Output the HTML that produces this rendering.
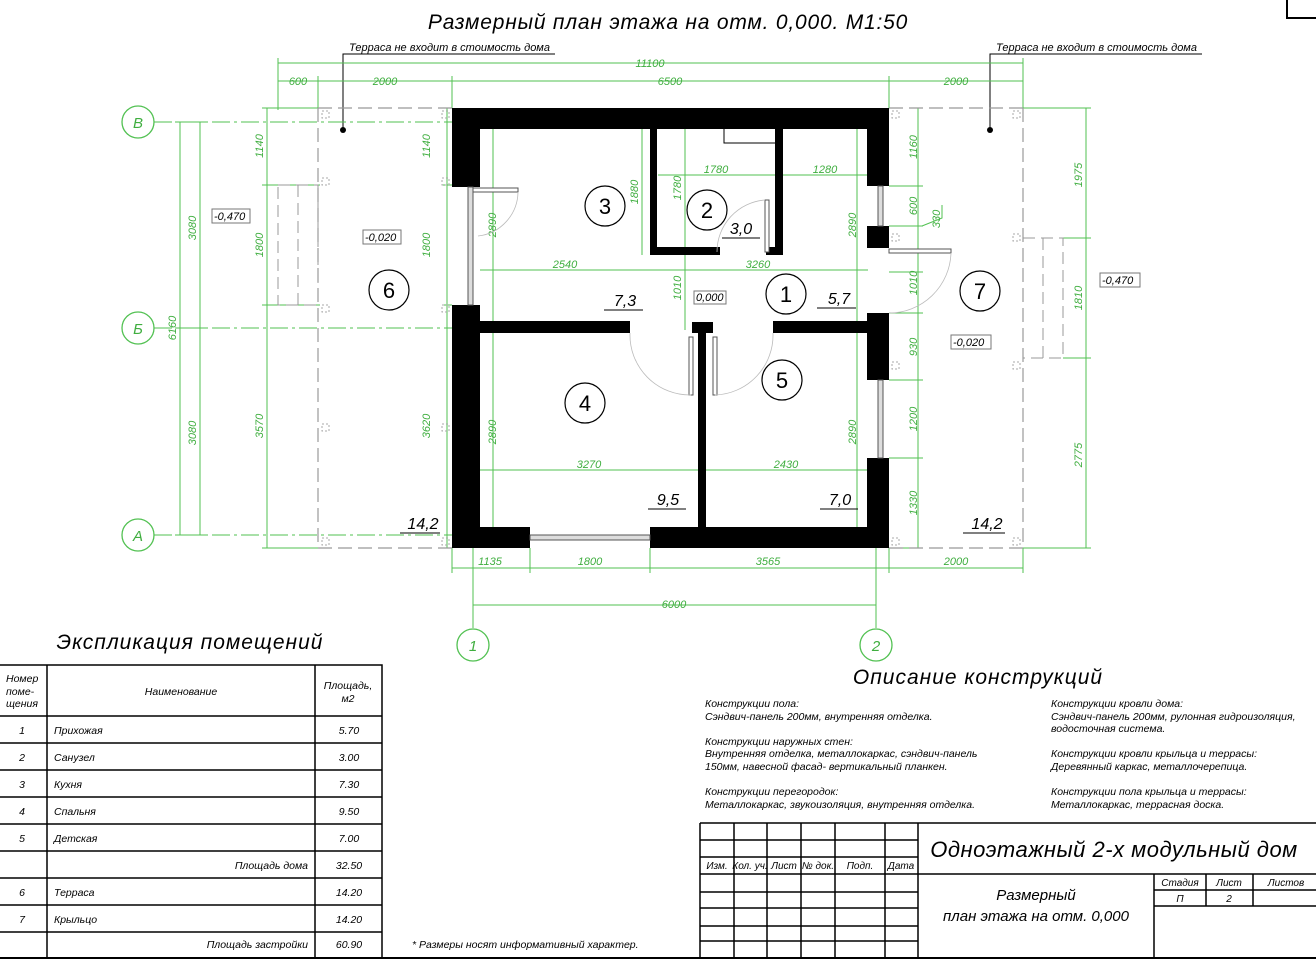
<!DOCTYPE html>
<html><head><meta charset="utf-8"><style>
html,body{margin:0;padding:0;background:#fff;}
svg{display:block;font-family:"Liberation Sans","DejaVu Sans",sans-serif;font-style:italic;}
.g{stroke:#52c152;stroke-width:1;fill:none}
.gt{fill:#3fae3f;font-size:11px}
.k{stroke:#000;fill:none}
.d{stroke:#999;stroke-width:1.2;fill:none;stroke-dasharray:14 6}
.w{fill:#000}
.t{fill:#000;font-size:11px}
</style></head><body>
<svg width="1316" height="965" viewBox="0 0 1316 965" xmlns="http://www.w3.org/2000/svg">
<rect x="1287" y="-2" width="40" height="20" fill="none" stroke="#000" stroke-width="2"/>
<text x="668" y="29" text-anchor="middle" font-size="21" fill="#000" letter-spacing="0.8">Размерный план этажа на отм. 0,000. М1:50</text>

<path class="k" d="M343 130 V54 H555 M990 130 V54 H1202"/>
<circle cx="343" cy="130" r="3"/><circle cx="990" cy="130" r="3"/>
<text x="349" y="51" class="t" font-size="10.5">Терраса не входит в стоимость дома</text>
<text x="996" y="51" class="t" font-size="10.5">Терраса не входит в стоимость дома</text>

<g class="g">
<path d="M278 63 H1023 M278 81 H1023 M278 58 V110 M318 76 V110 M452 76 V108 M889 76 V108 M1023 58 V110"/>
<path d="M452 568 H1023 M452 548 V573 M530 548 V573 M650 548 V573 M889 548 V573 M1023 548 V573"/>
<path d="M473 605 H876 M473 560 V628 M876 560 V628"/>
<path d="M154 122 H452 M154 328 H452 M154 535 H452" stroke-dasharray="18 4 3 4"/>
<path d="M473 548 V628 M876 548 V628" stroke-dasharray="18 4 3 4"/>
<path d="M180 122 V535 M200 122 V535 M175 122 H205 M175 328 H205 M175 535 H205"/>
<path d="M267 108 V548 M262 108 H320 M262 185 H320 M262 305 H320 M262 548 H320"/>
<path d="M447 108 V548 M442 108 H452 M442 185 H452 M442 305 H452 M442 548 H452"/>
<path d="M918 108 V548 M889 186 H923 M889 226 H923 M889 272 H923 M889 313 H923 M889 380 H923 M889 458 H923 M889 548 H923"/>
<path d="M1086 108 V548 M1023 108 H1091 M1063 238 H1091 M1063 358 H1091 M1023 548 H1091"/>
<path d="M922 226 L942 218 V205"/>
<path d="M480 270 H868 M480 470 H868 M658 175 H868 M642 129 V255 M685 129 V330 M493 129 V527 M857 129 V527"/>
</g>
<g class="gt" text-anchor="middle">
<text x="650" y="67">11100</text>
<text x="298" y="85">600</text><text x="385" y="85">2000</text><text x="670" y="85">6500</text><text x="956" y="85">2000</text>
<text x="490" y="565">1135</text><text x="590" y="565">1800</text><text x="768" y="565">3565</text><text x="956" y="565">2000</text>
<text x="674" y="608">6000</text>
<text x="565" y="268">2540</text><text x="758" y="268">3260</text>
<text x="589" y="468">3270</text><text x="786" y="468">2430</text>
<text x="716" y="173">1780</text><text x="825" y="173">1280</text>
<g transform="rotate(-90)">
<text x="-228" y="196">3080</text><text x="-433" y="196">3080</text><text x="-328" y="176">6160</text>
<text x="-146" y="263">1140</text><text x="-245" y="263">1800</text><text x="-426" y="263">3570</text>
<text x="-146" y="430">1140</text><text x="-245" y="430">1800</text><text x="-426" y="430">3620</text>
<text x="-225" y="496">2890</text><text x="-432" y="496">2890</text>
<text x="-225" y="856">2890</text><text x="-432" y="856">2890</text>
<text x="-192" y="638">1880</text><text x="-188" y="681">1780</text><text x="-288" y="681">1010</text>
<text x="-147" y="917">1160</text><text x="-206" y="917">600</text><text x="-283" y="917">1010</text>
<text x="-347" y="917">930</text><text x="-419" y="917">1200</text><text x="-503" y="917">1330</text>
<text x="-219" y="940">330</text>
<text x="-175" y="1082">1975</text><text x="-298" y="1082">1810</text><text x="-455" y="1082">2775</text>
</g>
</g>

<path class="d" d="M318 108 V548 M318 108 H452 M318 548 H452"/>
<path class="d" d="M1023 108 V548 M889 108 H1023 M889 548 H1023"/>
<path stroke="#999" fill="none" d="M278 185 H318 V305 H278 V185 M298 185 V305 M1023 238 H1063 V358 H1023 M1043 238 V358" stroke-dasharray="12 6"/>
<g stroke="#aaa" fill="none" stroke-dasharray="2 2">
<rect x="322" y="111" width="7" height="7"/><rect x="322" y="178" width="7" height="7"/><rect x="322" y="305" width="7" height="7"/><rect x="322" y="424" width="7" height="7"/><rect x="322" y="538" width="7" height="7"/>
<rect x="442" y="111" width="7" height="7"/><rect x="442" y="178" width="7" height="7"/><rect x="442" y="305" width="7" height="7"/><rect x="442" y="424" width="7" height="7"/><rect x="442" y="538" width="7" height="7"/>
<rect x="892" y="111" width="7" height="7"/><rect x="892" y="234" width="7" height="7"/><rect x="892" y="362" width="7" height="7"/><rect x="892" y="538" width="7" height="7"/>
<rect x="1013" y="111" width="7" height="7"/><rect x="1013" y="234" width="7" height="7"/><rect x="1013" y="362" width="7" height="7"/><rect x="1013" y="538" width="7" height="7"/>
</g>

<g class="w">
<rect x="452" y="108" width="437" height="21"/>
<rect x="452" y="527" width="78" height="21"/><rect x="650" y="527" width="239" height="21"/>
<rect x="452" y="108" width="28" height="79"/><rect x="452" y="305" width="28" height="243"/>
<rect x="867" y="108" width="22" height="78"/><rect x="867" y="226" width="22" height="22"/><rect x="867" y="313" width="22" height="67"/><rect x="867" y="458" width="22" height="90"/>
<rect x="480" y="321" width="150" height="12"/><rect x="773" y="321" width="95" height="12"/>
<rect x="692" y="322" width="21" height="11"/>
<rect x="698" y="333" width="8" height="194"/>
<rect x="650" y="129" width="7" height="126"/><rect x="650" y="247" width="70" height="8"/>
<rect x="775" y="129" width="8" height="126"/><rect x="766" y="247" width="17" height="8"/>
</g>
<g stroke="#555" fill="#ddd">
<rect x="468" y="187" width="5" height="118"/><rect x="878" y="186" width="5" height="40"/><rect x="878" y="380" width="5" height="78"/>
<rect x="530" y="535" width="120" height="5"/>
<rect x="473" y="188" width="45" height="4" fill="#fff"/><rect x="889" y="249" width="62" height="4" fill="#fff"/>
<rect x="689" y="337" width="4" height="58" fill="#fff"/><rect x="713" y="337" width="4" height="58" fill="#fff"/>
<rect x="765" y="200" width="4" height="52" fill="#fff"/>
</g>
<g stroke="#bbb" fill="none" stroke-width="0.8">
<path d="M518 192 A45 45 0 0 1 478 236"/><path d="M951 253 A62 62 0 0 1 889 313"/>
<path d="M630 333 A60 60 0 0 0 691 395"/><path d="M773 333 A60 60 0 0 1 715 395"/>
<path d="M765 200 A52 52 0 0 0 717 252"/>
</g>
<path d="M724 129 V143 H775" stroke="#000" fill="none"/>

<g fill="none" stroke="#000" stroke-width="1.2">
<circle cx="605" cy="206" r="20"/><circle cx="707" cy="210" r="20"/><circle cx="786" cy="294" r="20"/>
<circle cx="585" cy="403" r="20"/><circle cx="782" cy="380" r="20"/><circle cx="389" cy="290" r="20"/><circle cx="980" cy="291" r="20"/>
</g>
<g fill="#000" font-size="22" text-anchor="middle" font-style="normal">
<text x="605" y="214">3</text><text x="707" y="218">2</text><text x="786" y="302">1</text><text x="585" y="411">4</text><text x="782" y="388">5</text><text x="389" y="298">6</text><text x="980" y="299">7</text>
</g>
<g fill="#000" font-size="16" text-anchor="middle">
<text x="625" y="306">7,3</text><text x="741" y="234">3,0</text><text x="839" y="304">5,7</text><text x="668" y="505">9,5</text><text x="840" y="505">7,0</text><text x="423" y="529">14,2</text><text x="987" y="529">14,2</text>
</g>
<path stroke="#000" d="M604 310 H643 M722 238 H760 M817 308 H856 M648 509 H686 M820 509 H858 M400 533 H440 M963 533 H1005"/>
<g font-size="11" fill="#000">
<rect x="212" y="209" width="38" height="14" fill="none" stroke="#777"/><text x="214" y="220">-0,470</text>
<rect x="363" y="230" width="38" height="14" fill="none" stroke="#777"/><text x="365" y="241">-0,020</text>
<rect x="694" y="291" width="32" height="13" fill="none" stroke="#777"/><text x="696" y="301">0,000</text>
<rect x="1100" y="273" width="40" height="14" fill="none" stroke="#777"/><text x="1102" y="284">-0,470</text>
<rect x="951" y="335" width="40" height="14" fill="none" stroke="#777"/><text x="953" y="346">-0,020</text>
</g>
<g fill="none" stroke="#52c152" stroke-width="1.3">
<circle cx="138" cy="122" r="16"/><circle cx="138" cy="328" r="16"/><circle cx="138" cy="535" r="16"/>
<circle cx="473" cy="645" r="16"/><circle cx="876" cy="645" r="16"/>
</g>
<g fill="#3fae3f" font-size="15" text-anchor="middle">
<text x="138" y="128">В</text><text x="138" y="334">Б</text><text x="138" y="541">А</text><text x="473" y="651">1</text><text x="876" y="651">2</text>
</g>

<text x="190" y="649" text-anchor="middle" font-size="21" fill="#000" letter-spacing="1">Экспликация  помещений</text>
<g stroke="#000" stroke-width="1.5" fill="none">
<path d="M0 665 H382 V958 M0 716 H382 M0 743 H382 M0 770 H382 M0 797 H382 M0 824 H382 M0 851 H382 M0 878 H382 M0 905 H382 M0 932 H382 M47 665 V958 M315 665 V958"/>
<path d="M0 958 H1316" stroke-width="2"/>
</g>
<g font-size="10.5" fill="#000">
<text x="6" y="682">Номер</text><text x="6" y="695">поме-</text><text x="6" y="707">щения</text>
<text x="181" y="695" text-anchor="middle">Наименование</text>
<text x="348" y="689" text-anchor="middle">Площадь,</text><text x="348" y="702" text-anchor="middle">м2</text>
<g text-anchor="middle"><text x="22" y="734">1</text><text x="22" y="761">2</text><text x="22" y="788">3</text><text x="22" y="815">4</text><text x="22" y="842">5</text><text x="22" y="896">6</text><text x="22" y="923">7</text>
<text x="349" y="734">5.70</text><text x="349" y="761">3.00</text><text x="349" y="788">7.30</text><text x="349" y="815">9.50</text><text x="349" y="842">7.00</text><text x="349" y="869">32.50</text><text x="349" y="896">14.20</text><text x="349" y="923">14.20</text><text x="349" y="948">60.90</text></g>
<text x="54" y="734">Прихожая</text><text x="54" y="761">Санузел</text><text x="54" y="788">Кухня</text><text x="54" y="815">Спальня</text><text x="54" y="842">Детская</text><text x="54" y="896">Терраса</text><text x="54" y="923">Крыльцо</text>
<text x="308" y="869" text-anchor="end">Площадь дома</text><text x="308" y="948" text-anchor="end">Площадь застройки</text>
<text x="412" y="948">*   Размеры носят информативный характер.</text>
</g>

<text x="978" y="684" text-anchor="middle" font-size="21" fill="#000" letter-spacing="1">Описание конструкций</text>
<g font-size="10.5" fill="#000">
<text x="705" y="707">Конструкции пола:</text><text x="705" y="720">Сэндвич-панель 200мм, внутренняя отделка.</text>
<text x="705" y="745">Конструкции наружных стен:</text><text x="705" y="757">Внутренняя отделка, металлокаркас, сэндвич-панель</text><text x="705" y="770">150мм, навесной фасад- вертикальный планкен.</text>
<text x="705" y="795">Конструкции перегородок:</text><text x="705" y="808">Металлокаркас, звукоизоляция, внутренняя отделка.</text>
<text x="1051" y="707">Конструкции кровли дома:</text><text x="1051" y="720">Сэндвич-панель 200мм, рулонная гидроизоляция,</text><text x="1051" y="732">водосточная система.</text>
<text x="1051" y="757">Конструкции кровли крыльца и террасы:</text><text x="1051" y="770">Деревянный каркас, металлочерепица.</text>
<text x="1051" y="795">Конструкции пола крыльца и террасы:</text><text x="1051" y="808">Металлокаркас, террасная доска.</text>
</g>

<g stroke="#000" stroke-width="1.5" fill="none">
<path d="M700 823 H1316 M700 823 V958 M734 823 V958 M767 823 V874 M801 823 V958 M835 823 V874 M885 823 V958 M918 823 V958 M835 874 V958 M767 874 V958"/>
<path d="M700 840 H918 M700 857 H918 M700 874 H1316 M700 892 H918 M700 908 H918 M700 926 H918 M700 941 H918"/>
<path d="M1154 874 V958 M1154 890 H1316 M1154 906 H1316 M1206 874 V906 M1253 874 V906"/>
</g>
<g font-size="10" fill="#000" text-anchor="middle">
<text x="717" y="869">Изм.</text><text x="750" y="869">Кол. уч.</text><text x="784" y="869">Лист</text><text x="818" y="869">№ док.</text><text x="860" y="869">Подп.</text><text x="901" y="869">Дата</text>
<text x="1180" y="886">Стадия</text><text x="1229" y="886">Лист</text><text x="1286" y="886">Листов</text>
<text x="1180" y="902">П</text><text x="1229" y="902">2</text>
</g>
<text x="1114" y="857" text-anchor="middle" font-size="22" fill="#000" letter-spacing="0.5">Одноэтажный 2-х модульный дом</text>
<text x="1036" y="900" text-anchor="middle" font-size="15" fill="#000">Размерный</text>
<text x="1036" y="921" text-anchor="middle" font-size="15" fill="#000">план этажа на отм. 0,000</text>
</svg>
</body></html>
